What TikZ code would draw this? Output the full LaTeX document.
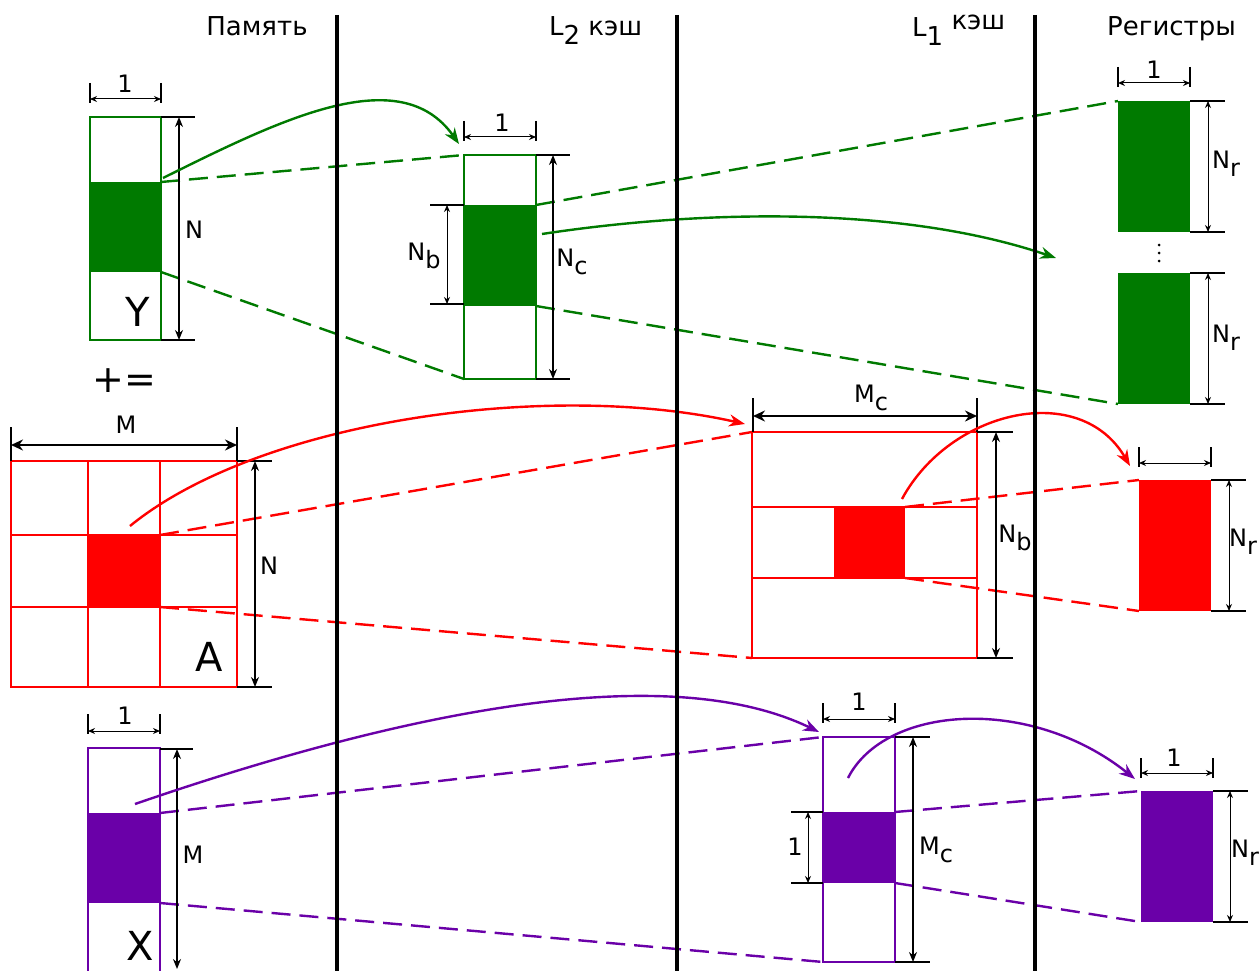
\documentclass[tikz,border=0pt]{standalone}
\usepackage{fontspec}
\setmainfont{DejaVu Sans}
\usetikzlibrary{arrows.meta}
\definecolor{gr}{RGB}{0,122,0}
\definecolor{rd}{RGB}{255,0,0}
\definecolor{pu}{RGB}{106,0,168}
\newcommand{\lowsub}[1]{\raisebox{-0.32em}{#1}}
\begin{document}
\begin{tikzpicture}[x=1pt,y=-1pt,
  sepline/.style={line width=3.6pt,black},
  box/.style={line width=1.2pt},
  tickl/.style={line width=1.3pt,black},
  dimthin/.style={line width=1pt,{Stealth[length=7pt,width=6pt]}-{Stealth[length=7pt,width=6pt]}},
  dimmid/.style={line width=1.5pt,{Stealth[length=10pt,width=8pt]}-{Stealth[length=10pt,width=8pt]}},
  dimthick/.style={line width=2.2pt,{Stealth[length=12pt,width=11pt]}-{Stealth[length=12pt,width=11pt]}},
  link/.style={line width=2.4pt,dash pattern=on 19pt off 9pt},
  flow/.style={line width=2.4pt,-{Stealth[length=16pt,width=12pt]}},
  lab/.style={font=\fontsize{24}{28}\selectfont,inner sep=0pt},
  biglab/.style={font=\fontsize{40}{46}\selectfont,inner sep=0pt},
  ttl/.style={font=\fontsize{26}{31}\selectfont,inner sep=0pt}]
\useasboundingbox (0,0) rectangle (1259,971);
\fill[white] (0,0) rectangle (1259,971);

% ---------- titles ----------
\node[ttl,anchor=base] (tmem) at (257,36) {Память};
\node[ttl,anchor=base west] (tltwo) at (549,36) {L\lowsub{2} кэш};
\node[ttl,anchor=base west] (tlone) at (912,37) {L\lowsub{1} \raisebox{0.3em}{кэш}};
\node[ttl,anchor=base west] (treg) at (1107,36) {Регистры};

% ---------- key coordinates ----------
\coordinate (Ytl) at (90,117);   \coordinate (Ybr) at (161,340);
\coordinate (Yftl) at (90,182);  \coordinate (Yfbr) at (161,272);
\coordinate (Yftr) at (161,182);
\coordinate (Ltl) at (464,155);  \coordinate (Lbr) at (536,379);
\coordinate (Lbl) at (464,379);
\coordinate (Lftl) at (464,205); \coordinate (Lfbr) at (536,306);
\coordinate (Lftr) at (536,205);
\coordinate (Raa) at (1118,101); \coordinate (Rab) at (1190,232);
\coordinate (Rba) at (1118,273); \coordinate (Rbb) at (1190,404);
\coordinate (Rbbl) at (1118,404);
\coordinate (Atl) at (11,461);   \coordinate (Abr) at (237,687);
\coordinate (Aftl) at (88,535);  \coordinate (Afbr) at (160,607);
\coordinate (Aftr) at (160,535);
\coordinate (Btl) at (752,432);  \coordinate (Bbr) at (977,658);
\coordinate (Bbl) at (752,658);
\coordinate (Bstl) at (752,507); \coordinate (Bsbr) at (977,578);
\coordinate (Bftl) at (834,507); \coordinate (Bfbr) at (905,578);
\coordinate (Bftr) at (905,507);
\coordinate (Ctl) at (1139,480); \coordinate (Cbr) at (1211,611);
\coordinate (Cbl) at (1139,611);
\coordinate (Xtl) at (88,748);   \coordinate (Xbr) at (160,975);
\coordinate (Xftl) at (88,813);  \coordinate (Xfbr) at (160,903);
\coordinate (Xftr) at (160,813);
\coordinate (Ztl) at (823,737);  \coordinate (Zbr) at (895,962);
\coordinate (Zbl) at (823,962);
\coordinate (Zftl) at (823,812); \coordinate (Zfbr) at (895,883);
\coordinate (Zftr) at (895,812);
\coordinate (Wtl) at (1141,791); \coordinate (Wbr) at (1213,922);
\coordinate (Wbl) at (1141,922);

% ---------- dashed links ----------
\draw[gr,link] (Yftr) -- (Ltl);
\draw[gr,link] (Yfbr) -- (Lbl);
\draw[gr,link] (Lftr) -- (Raa);
\draw[gr,link] (Lfbr) -- (Rbbl);
\draw[rd,link] (Aftr) -- (Btl);
\draw[rd,link] (Afbr) -- (Bbl);
\draw[rd,link] (Bftr) -- (Ctl);
\draw[rd,link] (Bfbr) -- (Cbl);
\draw[pu,link] (Xftr) -- (Ztl);
\draw[pu,link] (Xfbr) -- (Zbl);
\draw[pu,link] (Zftr) -- (Wtl);
\draw[pu,link] (Zfbr) -- (Wbl);

% ---------- Y blocks ----------
\fill[gr] (Yftl) rectangle (Yfbr);
\draw[gr,box] (Ytl) rectangle (Ybr);
\draw[tickl] (90,83) -- (90,103) (161,83) -- (161,103);
\draw[dimthin] (90,99) -- (161,99);
\node[lab] (y1) at (125,84) {1};
\draw[tickl] (161,117) -- (195,117) (161,340) -- (195,340);
\draw[dimmid] (179,117) -- (179,340);
\node[lab] (yN) at (194,230) {N};
\node[biglab] (yY) at (138,312) {Y};
\node[font=\fontsize{38}{42}\selectfont,inner sep=0pt] (pe) at (124,381) {+=};

\fill[gr] (Lftl) rectangle (Lfbr);
\draw[gr,box] (Ltl) rectangle (Lbr);
\draw[tickl] (464,121) -- (464,141) (536,121) -- (536,141);
\draw[dimthin] (464,137) -- (536,137);
\node[lab] (l1) at (502,123) {1};
\draw[tickl] (430,205) -- (464,205) (430,304) -- (464,304);
\draw[dimthin] (447,205) -- (447,304);
\node[lab] (lNb) at (424,256) {N\lowsub{b}};
\draw[tickl] (536,155) -- (570,155) (536,379) -- (570,379);
\draw[dimmid] (553,155) -- (553,379);
\node[lab] (lNc) at (572,262) {N\lowsub{c}};

\fill[gr] (Raa) rectangle (Rab);
\fill[gr] (Rba) rectangle (Rbb);
\draw[tickl] (1118,67) -- (1118,87) (1190,67) -- (1190,87);
\draw[dimthin] (1118,83) -- (1190,83);
\node[lab] (r1) at (1154,70) {1};
\draw[tickl] (1190,101) -- (1225,101) (1190,232) -- (1225,232);
\draw[dimthin] (1208,101) -- (1208,232);
\node[lab] (rNa) at (1226,164) {N\lowsub{r}};
\draw[tickl] (1190,273) -- (1225,273) (1190,404) -- (1225,404);
\draw[dimthin] (1208,273) -- (1208,404);
\node[lab] (rNb) at (1226,338) {N\lowsub{r}};
\foreach \yy in {245,253,261} \fill (1159,\yy) circle (1.5pt);

% ---------- A blocks ----------
\fill[rd] (Aftl) rectangle (Afbr);
\draw[rd,box] (Atl) rectangle (Abr);
\draw[rd,box] (88,461) -- (88,687) (160,461) -- (160,687)
               (11,535) -- (237,535) (11,607) -- (237,607);
\draw[tickl] (11,427) -- (11,461) (237,427) -- (237,461);
\draw[dimthick] (11,445) -- (237,445);
\node[lab] (aM) at (126,425) {M};
\draw[tickl] (237,461) -- (272,461) (237,687) -- (272,687);
\draw[dimmid] (255,461) -- (255,687);
\node[lab] (aN) at (269,566) {N};
\node[biglab] (aA) at (209,657) {A};

\draw[rd,box] (Btl) rectangle (Bbr);
\draw[rd,box] (Bstl) rectangle (Bsbr);
\fill[rd] (Bftl) rectangle (Bfbr);
\draw[tickl] (753,398) -- (753,432) (977,398) -- (977,432);
\draw[dimthick] (753,416) -- (977,416);
\node[lab] (bMc) at (871,398) {M\lowsub{c}};
\draw[tickl] (977,432) -- (1013,432) (977,658) -- (1013,658);
\draw[dimmid] (996,432) -- (996,658);
\node[lab] (bNb) at (1015,538) {N\lowsub{b}};

\fill[rd] (Ctl) rectangle (Cbr);
\draw[tickl] (1139,447) -- (1139,467) (1211,447) -- (1211,467);
\draw[dimthin] (1139,463) -- (1211,463);
\draw[tickl] (1211,480) -- (1246,480) (1211,611) -- (1246,611);
\draw[dimthin] (1229,480) -- (1229,611);
\node[lab] (cNr) at (1243,542) {N\lowsub{r}};

% ---------- X blocks ----------
\fill[pu] (Xftl) rectangle (Xfbr);
\draw[pu,box] (Xtl) rectangle (Xbr);
\draw[tickl] (88,714) -- (88,734) (160,714) -- (160,734);
\draw[dimthin] (88,731) -- (160,731);
\node[lab] (x1) at (125,716) {1};
\draw[tickl] (160,749) -- (193,749);
\draw[dimmid] (177,749) -- (177,969);
\node[lab] (xM) at (193,855) {M};
\node[biglab] (xX) at (140,946) {X};

\fill[pu] (Zftl) rectangle (Zfbr);
\draw[pu,box] (Ztl) rectangle (Zbr);
\draw[tickl] (823,703) -- (823,723) (895,703) -- (895,723);
\draw[dimthin] (823,719) -- (895,719);
\node[lab] (z1) at (859,702) {1};
\draw[tickl] (791,812) -- (823,812) (791,883) -- (823,883);
\draw[dimthin] (808,812) -- (808,883);
\node[lab] (z1b) at (795,847) {1};
\draw[tickl] (895,737) -- (930,737) (895,962) -- (930,962);
\draw[dimmid] (913,737) -- (913,962);
\node[lab] (zMc) at (936,850) {M\lowsub{c}};

\fill[pu] (Wtl) rectangle (Wbr);
\draw[tickl] (1141,758) -- (1141,778) (1213,758) -- (1213,778);
\draw[dimthin] (1141,773) -- (1213,773);
\node[lab] (w1) at (1174,758) {1};
\draw[tickl] (1213,791) -- (1248,791) (1213,922) -- (1248,922);
\draw[dimthin] (1230,791) -- (1230,922);
\node[lab] (wNr) at (1245,853) {N\lowsub{r}};

% ---------- flow arrows ----------
\coordinate (fy1s) at (163,178); \coordinate (fy1e) at (459,144);
\coordinate (fy2s) at (542,234); \coordinate (fy2e) at (1056,258);
\coordinate (fa1s) at (130,526); \coordinate (fa1e) at (745,424);
\coordinate (fa2s) at (902,499); \coordinate (fa2e) at (1130,466);
\coordinate (fx1s) at (135,804); \coordinate (fx1e) at (819,732);
\coordinate (fx2s) at (848,778); \coordinate (fx2e) at (1135,779);
\draw[gr,flow] (fy1s) .. controls (280,120) and (400,60) .. (fy1e);
\draw[gr,flow] (fy2s) .. controls (700,210) and (900,205) .. (fy2e);
\draw[rd,flow] (fa1s) .. controls (260,420) and (550,380) .. (fa1e);
\draw[rd,flow] (fa2s) .. controls (950,410) and (1080,380) .. (fa2e);
\draw[pu,flow] (fx1s) .. controls (350,730) and (650,650) .. (fx1e);
\draw[pu,flow] (fx2s) .. controls (885,705) and (1030,695) .. (fx2e);

% ---------- level separators ----------
\coordinate (s1t) at (337,15);  \coordinate (s1b) at (337,971);
\coordinate (s2t) at (677,15);  \coordinate (s2b) at (677,971);
\coordinate (s3t) at (1035,15); \coordinate (s3b) at (1035,971);
\draw[sepline] (s1t) -- (s1b);
\draw[sepline] (s2t) -- (s2b);
\draw[sepline] (s3t) -- (s3b);
\end{tikzpicture}
\end{document}
